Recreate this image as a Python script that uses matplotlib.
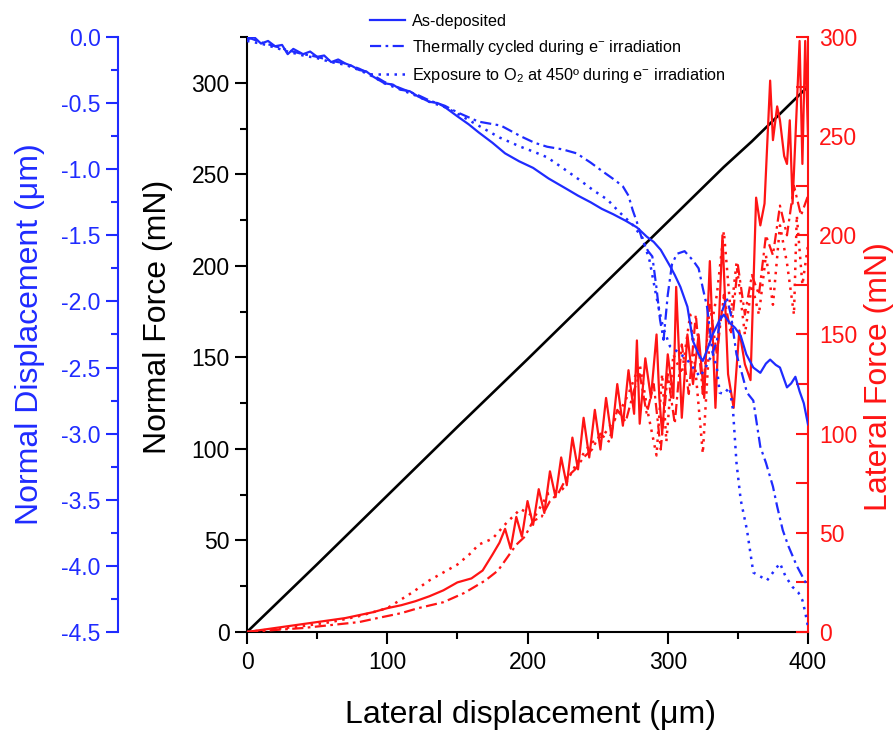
"""
Scratch test: normal force, lateral force and normal displacement
against lateral displacement for three coating conditions.
"""

import matplotlib.pyplot as plt
from matplotlib.lines import Line2D
from matplotlib.ticker import MultipleLocator

plt.rcParams['font.family'] = ['Liberation Sans', 'DejaVu Sans']
plt.rcParams['mathtext.fontset'] = 'custom'
plt.rcParams['mathtext.rm'] = 'Liberation Sans'
plt.rcParams['mathtext.it'] = 'Liberation Sans:italic'

BLUE = '#1f2bff'
RED = '#ff1414'

LABELS = [
    'As-deposited',
    'Thermally cycled during e$^{-}$ irradiation',
    'Exposure to O$_2$ at 450º during e$^{-}$ irradiation',
]

# normal force ramp (mN)
FORCE_X = [0, 50, 100, 150, 200, 250, 300, 320, 340, 350, 360, 380, 400]
FORCE_N = [0, 37, 74.5, 112, 149, 186.5, 224, 239, 254, 261, 268, 283, 298]

# normal displacement (um)
DISP_X_AS = [0, 5, 10, 15, 20, 25, 29, 33, 40, 45, 50, 55, 60, 65, 70, 75, 80, 85, 90, 98,
             104, 110, 116, 122, 130, 136, 141, 150, 158, 165, 175, 184, 194, 204, 215, 228, 236, 245, 253, 261,
             270, 278, 285, 290, 295, 302, 305, 309, 314, 318, 322, 325, 328, 332, 337, 340, 344, 348, 352, 356,
             361, 366, 370, 373, 377, 380, 385, 388, 391, 394, 397, 400]
DISP_AS = [-0.02, 0.0, -0.05, -0.03, -0.07, -0.06, -0.13, -0.09, -0.13, -0.11,
           -0.15, -0.14, -0.19, -0.17, -0.2, -0.22, -0.25, -0.26, -0.3, -0.35,
           -0.36, -0.4, -0.41, -0.45, -0.49, -0.5, -0.53, -0.6, -0.66, -0.72,
           -0.8, -0.88, -0.94, -0.99, -1.07, -1.15, -1.2, -1.25, -1.3, -1.34,
           -1.39, -1.44, -1.51, -1.55, -1.61, -1.74, -1.8, -1.89, -2.04, -2.3,
           -2.4, -2.45, -2.37, -2.25, -2.14, -2.1, -2.16, -2.2, -2.26, -2.4,
           -2.5, -2.54, -2.47, -2.44, -2.48, -2.5, -2.65, -2.62, -2.57, -2.68,
           -2.77, -2.93]

DISP_X_TC = [0, 10, 20, 29, 40, 50, 60, 70, 80, 90, 98, 110, 122, 130, 141, 150, 165, 181, 195, 205,
             214, 225, 235, 245, 254, 262, 268, 272, 275, 278, 282, 286, 289, 292, 294.5, 297, 300, 303, 306.5, 312,
             318, 322, 325, 328, 332, 335, 338, 342, 345, 349, 353, 356.5, 361, 366, 370, 375, 378, 382, 386, 392,
             396, 400]
DISP_TC = [0, -0.04, -0.07, -0.1, -0.13, -0.15, -0.18, -0.2, -0.24, -0.29,
           -0.34, -0.39, -0.44, -0.48, -0.52, -0.57, -0.64, -0.67, -0.75, -0.8,
           -0.83, -0.85, -0.88, -0.95, -1.02, -1.08, -1.13, -1.2, -1.31, -1.4,
           -1.54, -1.62, -1.66, -1.9, -2.14, -2.29, -1.95, -1.72, -1.64, -1.62,
           -1.69, -1.75, -1.9, -2.04, -2.39, -2.3, -2.1, -1.97, -2.1, -2.4,
           -2.55, -2.69, -2.75, -3.1, -3.22, -3.4, -3.55, -3.73, -3.85, -4.0,
           -4.08, -4.16]

DISP_X_OX = [0, 10, 20, 29, 40, 50, 60, 70, 80, 90, 98, 110, 122, 130, 141, 150, 165, 180, 195, 205,
             214, 225, 237, 247, 257, 266, 275, 282, 287, 292, 296.5, 301.6, 307, 313.7, 318, 323, 327, 332, 335, 337,
             340, 344, 346.5, 349, 352, 356.5, 361, 366, 370.8, 375, 380, 384, 389, 393, 396, 398, 400]
DISP_OX = [-0.03, -0.05, -0.08, -0.11, -0.14, -0.16, -0.19, -0.21, -0.25, -0.3,
           -0.35, -0.4, -0.45, -0.49, -0.53, -0.58, -0.67, -0.76, -0.83, -0.87,
           -0.91, -0.99, -1.08, -1.16, -1.23, -1.33, -1.42, -1.52, -1.69, -1.97,
           -2.19, -2.34, -2.38, -2.44, -2.5, -2.57, -2.5, -2.39, -2.5, -2.69,
           -2.7, -2.65, -2.82, -3.22, -3.5, -3.73, -4.05, -4.08, -4.11, -4.05,
           -3.98, -4.08, -4.16, -4.2, -4.26, -4.35, -4.46]

# lateral force (mN)
LAT_X_AS = [0, 10, 20, 30, 40, 50, 60, 70, 80, 90, 100, 110, 120, 130, 140, 150, 160, 168, 175, 180,
            184, 188, 192, 196, 200, 204, 208, 212, 216, 220, 224, 228, 232, 236, 240, 244, 248, 252, 256, 260,
            264, 268, 272, 276, 278, 280, 284, 288, 292, 294, 296, 300, 304, 306, 310, 314, 318, 322, 326, 330,
            334, 339, 343, 347, 351, 355, 359, 363, 366, 369, 373, 375, 378, 380, 383, 385, 387, 389, 392, 394,
            396, 398, 400]
LAT_AS = [0, 1, 2, 3, 4, 5, 6, 7, 8.5, 10, 12, 13.5, 15.5, 18, 21, 25, 27, 31, 39, 45,
          52, 42, 58, 48, 66, 54, 72, 60, 81, 68, 88, 74, 98, 82, 108, 88, 112, 92, 118, 98,
          125, 104, 132, 110, 147, 105, 138, 118, 150, 118, 100, 140, 118, 174, 108, 150, 125, 150, 118, 187,
          113, 200, 130, 113, 152, 135, 127, 219, 205, 216, 278, 248, 265, 258, 240, 236, 258, 216, 265, 298,
          236, 298, 250]

LAT_X_TC = [0, 20, 40, 60, 80, 93, 110, 122, 140, 155, 170, 179, 186, 192, 198, 204, 210, 216, 222, 228,
            234, 240, 246, 252, 258, 264, 270, 276, 280, 285, 290, 295, 300, 305, 310, 315, 320, 325, 330, 335,
            340, 345, 350, 355, 360, 365, 370, 375, 380, 385, 390, 395, 400]
LAT_TC = [0, 1, 2, 3.5, 5, 7, 9.5, 12, 15, 19.7, 26, 31, 38, 44, 48, 56, 58, 66, 70, 78,
          82, 88, 92, 100, 96, 112, 106, 122, 130, 110, 125, 92, 130, 105, 145, 120, 160, 120, 165, 140,
          170, 150, 185, 160, 180, 170, 200, 190, 215, 200, 225, 210, 220]

LAT_X_OX = [0, 20, 40, 60, 80, 100, 118, 130, 140, 150, 160, 165, 175, 185, 195, 205, 215, 225, 235, 245,
            255, 265, 272, 280, 286, 292, 296, 299, 304, 310, 316, 320, 325, 330, 335, 340, 345, 349, 355, 360,
            365, 370, 375, 380, 385, 390, 392, 396, 400]
LAT_OX = [0, 1.5, 3, 5, 8, 12, 20, 26, 30, 34, 40, 44, 47, 55, 62, 58, 70, 72, 85, 95,
          100, 110, 120, 135, 110, 89, 130, 96, 140, 130, 160, 130, 90, 150, 170, 202, 160, 186, 150, 175,
          160, 190, 165, 205, 186, 160, 210, 175, 195]

DASHDOT = (0, (5, 2, 1.2, 2))
DOTTED = (0, (1, 2.2))

fig = plt.figure(figsize=(8.95, 7.34), dpi=100)
ax = fig.add_axes([0.276, 0.139, 0.6268, 0.8106])
ax_lat = ax.twinx()
ax_disp = ax.twinx()

# normal force axis (black, inner left)
ax.plot(FORCE_X, FORCE_N, color='black', lw=1.9)
ax.set_xlim(0, 400)
ax.set_ylim(0, 325)
ax.spines['top'].set_visible(False)
ax.spines['right'].set_visible(False)
for side in ('left', 'bottom'):
    ax.spines[side].set_linewidth(1.5)
ax.xaxis.set_major_locator(MultipleLocator(100))
ax.xaxis.set_minor_locator(MultipleLocator(50))
ax.yaxis.set_major_locator(MultipleLocator(50))
ax.yaxis.set_minor_locator(MultipleLocator(25))
ax.tick_params(which='both', direction='out', width=1.5, labelsize=16.5)
ax.tick_params(which='major', length=8.5)
ax.tick_params(which='minor', length=5)
ax.tick_params(axis='x', pad=5)
ax.tick_params(axis='y', pad=4)
ax.set_xlabel('Lateral displacement (μm)', fontsize=23)
ax.xaxis.set_label_coords(0.505, -0.14)
ax.xaxis.label.set_va('center')
ax.set_ylabel('Normal Force (mN)', fontsize=23)
ax.yaxis.set_label_coords(-0.159, 0.529)
ax.yaxis.label.set_va('center')

# lateral force axis (red, right)
ax_lat.plot(LAT_X_AS, LAT_AS, color=RED, lw=1.6)
ax_lat.plot(LAT_X_TC, LAT_TC, color=RED, lw=1.6, linestyle=DASHDOT)
ax_lat.plot(LAT_X_OX, LAT_OX, color=RED, lw=1.8, linestyle=DOTTED)
ax_lat.set_ylim(0, 300)
for side in ('top', 'left', 'bottom'):
    ax_lat.spines[side].set_visible(False)
ax_lat.spines['right'].set_color(RED)
ax_lat.spines['right'].set_linewidth(1.5)
ax_lat.yaxis.set_major_locator(MultipleLocator(50))
ax_lat.yaxis.set_minor_locator(MultipleLocator(25))
ax_lat.tick_params(which='both', direction='in', length=9, width=1.5, color=RED,
                   labelcolor=RED, labelsize=16.5, pad=8)
ax_lat.set_ylabel('Lateral Force (mN)', fontsize=23, color=RED)
ax_lat.yaxis.set_label_coords(1.127, 0.429)
ax_lat.yaxis.label.set_va('center')

# normal displacement axis (blue, outer left)
ax_disp.plot(DISP_X_AS, DISP_AS, color=BLUE, lw=1.6)
ax_disp.plot(DISP_X_TC, DISP_TC, color=BLUE, lw=1.6, linestyle=DASHDOT)
ax_disp.plot(DISP_X_OX, DISP_OX, color=BLUE, lw=1.8, linestyle=DOTTED)
ax_disp.set_ylim(-4.5, 0)
for side in ('top', 'right', 'bottom'):
    ax_disp.spines[side].set_visible(False)
ax_disp.spines['left'].set_visible(True)
ax_disp.spines['left'].set_position(('axes', -0.23))
ax_disp.spines['left'].set_color(BLUE)
ax_disp.spines['left'].set_linewidth(1.5)
ax_disp.yaxis.tick_left()
ax_disp.yaxis.set_label_position('left')
ax_disp.yaxis.set_major_locator(MultipleLocator(0.5))
ax_disp.yaxis.set_minor_locator(MultipleLocator(0.25))
ax_disp.yaxis.set_major_formatter(lambda v, pos: f'{v:.1f}'.replace('-0.0', '0.0'))
ax_disp.tick_params(which='both', direction='out', width=1.5, color=BLUE,
                    labelcolor=BLUE, labelsize=16.5, pad=4)
ax_disp.tick_params(which='major', length=8.5)
ax_disp.tick_params(which='minor', length=5)
ax_disp.set_ylabel('Normal Displacement (μm)', fontsize=23, color=BLUE)
ax_disp.yaxis.set_label_coords(-0.387, 0.501)
ax_disp.yaxis.label.set_va('center')

handles = [
    Line2D([], [], color=BLUE, lw=1.6),
    Line2D([], [], color=BLUE, lw=1.6, linestyle=DASHDOT),
    Line2D([], [], color=BLUE, lw=1.8, linestyle=DOTTED),
]
fig.legend(handles, LABELS, loc='upper left', bbox_to_anchor=(0.413, 0.981),
           frameon=False, fontsize=11.7, handlelength=2.15, handletextpad=0.45,
           labelspacing=0.55, borderpad=0, borderaxespad=0)

fig.savefig('out.png', dpi=100)
